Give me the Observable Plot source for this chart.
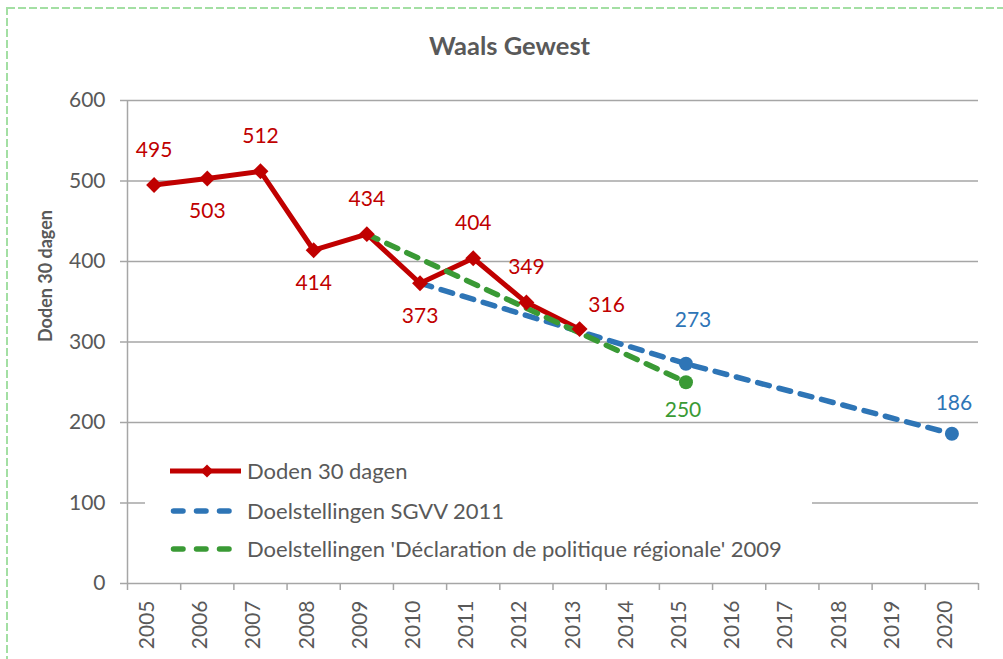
<!DOCTYPE html>
<html><head><meta charset="utf-8">
<script src="https://cdn.jsdelivr.net/npm/d3@7"></script>
<script src="https://cdn.jsdelivr.net/npm/@observablehq/plot@0.6"></script>
<style>
body{margin:0;background:#fff;font-family:Lato,"Open Sans",sans-serif;}
#wrap{position:relative;width:1003px;height:659px;overflow:hidden;background:#fff;}
#chart{position:absolute;left:0;top:0;}
#btop{position:absolute;left:7px;top:7px;width:996px;height:2px;background:repeating-linear-gradient(to right,#a3dfa3 0 8px,transparent 8px 11px);}
#bleft{position:absolute;left:6px;top:7px;width:2px;height:652px;background:repeating-linear-gradient(to bottom,#a3dfa3 0 8px,transparent 8px 11px);}
#title{position:absolute;left:8px;top:30px;width:1003px;text-align:center;font-weight:bold;font-size:25.5px;line-height:30px;color:#595959;}
#legend{position:absolute;left:145px;top:448px;width:667px;height:124px;background:#fff;}
#legend text{font-family:Lato,sans-serif;font-size:22px;fill:#595959;}
</style></head><body>
<div id="wrap">
  <div id="btop"></div><div id="bleft"></div>
  <div id="chart"></div>
  <div id="title">Waals Gewest</div>
  <div id="legend"></div>
</div>
<script>
// ---- data ----
const years = [2005,2006,2007,2008,2009,2010,2011,2012,2013,2014,2015,2016,2017,2018,2019,2020];
const deathYears = [2005,2006,2007,2008,2009,2010,2011,2012,2013];
const deaths = [495,503,512,414,434,373,404,349,316];
const sgvvYears = [2010,2015,2020];
const sgvvValues = [373,273,186];
const dprYears = [2009,2015];
const dprValues = [434,250];
const yTicks = [0,100,200,300,400,500,600];
const seriesNames = ["Doden 30 dagen","Doelstellingen SGVV 2011","Doelstellingen 'Déclaration de politique régionale' 2009"];
const yLabel = "Doden 30 dagen";

const RED="#C00000", BLUE="#2E75B6", GREEN="#3A9A35", GRID="#A6A6A6", TXT="#595959";

const red = deathYears.map((y,i)=>({year:y,value:deaths[i]}));
const sgvv = sgvvYears.map((y,i)=>({year:y,value:sgvvValues[i]}));
const dpr = dprYears.map((y,i)=>({year:y,value:dprValues[i]}));
const boundaries = years.map(y=>y-0.5).concat([years[years.length-1]+0.5]);

const redAbove = new Set([2005,2007,2009,2011,2012]);
const redBelow = new Set([2006,2008,2010]);
const redRight = new Set([2013]);

const plot = Plot.plot({
  width:1003, height:659,
  marginTop:100, marginBottom:76, marginLeft:127, marginRight:25,
  style:{fontFamily:"Lato, sans-serif", fontSize:"21px", color:TXT, background:"transparent"},
  x:{type:"linear", domain:[years[0]-0.5, years[years.length-1]+0.5]},
  y:{domain:[0,600]},
  marks:[
    Plot.gridY(yTicks,{stroke:GRID, strokeOpacity:1, strokeWidth:1.5}),
    Plot.axisY({ticks:yTicks, tickSize:7, tickFormat:()=>"", stroke:GRID, strokeWidth:1.5, label:null}),
    Plot.axisY({ticks:yTicks, tickSize:0, tickPadding:22, fill:TXT, fontSize:21, label:null}),
    Plot.ruleX([boundaries[0]],{stroke:GRID, strokeWidth:1.5}),
    Plot.axisX({ticks:boundaries, tickSize:7, tickFormat:()=>"", stroke:GRID, strokeWidth:1.5, label:null}),
    Plot.text(years,{x:d=>d, text:d=>String(d), frameAnchor:"bottom", dy:17, rotate:-90, textAnchor:"end", fill:TXT, fontSize:21}),
    Plot.text([yLabel],{frameAnchor:"left", dx:-81, rotate:-90, fontWeight:"bold", fontSize:18, fill:TXT}),
    // lines
    Plot.line(red,{x:"year", y:"value", stroke:RED, strokeWidth:5}),
    Plot.line(sgvv,{x:"year", y:"value", stroke:BLUE, strokeWidth:5.5, strokeDasharray:"12,10", strokeLinecap:"round"}),
    Plot.line(dpr,{x:"year", y:"value", stroke:GREEN, strokeWidth:5.5, strokeDasharray:"12,10", strokeLinecap:"round"}),
    Plot.dot(red,{x:"year", y:"value", symbol:"diamond2", r:7.2, fill:RED, stroke:null}),
    Plot.dot(sgvv.slice(1),{x:"year", y:"value", r:7, fill:BLUE}),
    Plot.dot(dpr.slice(1),{x:"year", y:"value", r:7, fill:GREEN}),
    // labels
    Plot.text(red.filter(d=>redAbove.has(d.year)),{x:"year", y:"value", text:"value", dy:-35, fill:RED, fontSize:21}),
    Plot.text(red.filter(d=>redBelow.has(d.year)),{x:"year", y:"value", text:"value", dy:33, fill:RED, fontSize:21}),
    Plot.text(red.filter(d=>redRight.has(d.year)),{x:"year", y:"value", text:"value", dx:27, dy:-24, fill:RED, fontSize:21}),
    Plot.text(sgvv.slice(1,2),{x:"year", y:"value", text:"value", dx:7, dy:-43, fill:BLUE, fontSize:21}),
    Plot.text(sgvv.slice(2),{x:"year", y:"value", text:"value", dx:2, dy:-31, fill:BLUE, fontSize:21}),
    Plot.text(dpr.slice(1),{x:"year", y:"value", text:"value", dx:-3, dy:28, fill:GREEN, fontSize:21})
  ]
});
document.getElementById("chart").appendChild(plot);

// legend
const lg = d3.select("#legend").append("svg").attr("width",667).attr("height",124);
const rows = [23,63,101];
const colors = [RED,BLUE,GREEN];
rows.forEach((ry,i)=>{
  if(i===0){
    lg.append("line").attr("x1",25).attr("x2",96).attr("y1",ry).attr("y2",ry).attr("stroke",RED).attr("stroke-width",5);
    lg.append("path").attr("d",d3.symbol(d3.symbolDiamond2,110)()).attr("transform",`translate(62,${ry})`).attr("fill",RED);
  } else {
    lg.append("line").attr("x1",28.5).attr("x2",84.5).attr("y1",ry).attr("y2",ry).attr("stroke",colors[i]).attr("stroke-width",5.5).attr("stroke-dasharray","9.5,13.5").attr("stroke-linecap","round");
  }
  lg.append("text").attr("x",102).attr("y",ry).attr("dy","0.35em").text(seriesNames[i]);
});
</script>
</body></html>
